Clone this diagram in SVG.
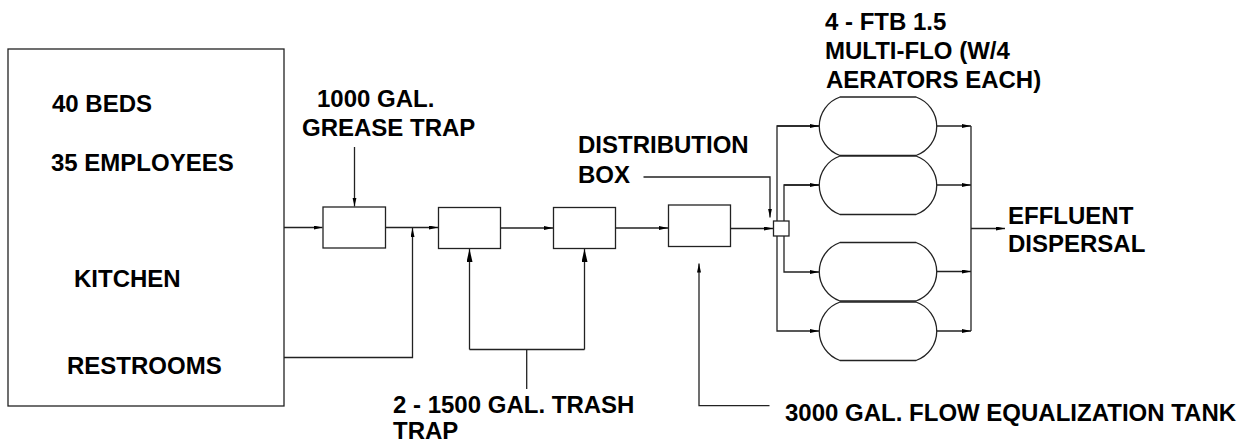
<svg xmlns="http://www.w3.org/2000/svg" width="1254" height="442" viewBox="0 0 1254 442">
<style>
text{font-family:"Liberation Sans",Arial,sans-serif;font-weight:bold;font-size:24px;fill:#000}
.b{fill:#fff;stroke:#222;stroke-width:1.3}
.c{fill:none;stroke:#222;stroke-width:1.3}
</style>
<defs>
<marker id="a" markerUnits="userSpaceOnUse" markerWidth="10" markerHeight="6" refX="9" refY="2" orient="auto"><path d="M0,0 L9,2 L0,4 z" fill="#000"/></marker>
<marker id="A" markerUnits="userSpaceOnUse" markerWidth="14" markerHeight="8" refX="13" refY="3" orient="auto"><path d="M0,0 L13,3 L0,6 z" fill="#000"/></marker>
</defs>
<rect width="1254" height="442" fill="#fff"/>
<g id="connectors">
<path class="c" d="M354.5,147 V206.5" marker-end="url(#a)"/>
<path class="c" d="M284,227.5 H322.5" marker-end="url(#a)"/>
<path class="c" d="M385.5,227.5 H438" marker-end="url(#a)"/>
<path class="c" d="M284,357.5 H412.5 V228" marker-end="url(#a)"/>
<path class="c" d="M500.5,228 H553" marker-end="url(#a)"/>
<path class="c" d="M615.5,228 H668" marker-end="url(#a)"/>
<path class="c" d="M730.5,228.5 H773" marker-end="url(#a)"/>
<path class="c" d="M526.7,389 V349.5"/>
<path class="c" d="M469.5,349.5 H584.5"/>
<path class="c" d="M469.5,349.5 V249" marker-end="url(#A)"/>
<path class="c" d="M584.5,349.5 V249" marker-end="url(#A)"/>
<path class="c" d="M769.5,405.7 H699 V263.5" marker-end="url(#a)"/>
<path class="c" d="M643.5,177 H770 V217.5" marker-end="url(#a)"/>
<path class="c" d="M819,126 H777 V331 H819" marker-end="url(#a)"/>
<path class="c" d="M777,126 H819" marker-end="url(#a)"/>
<path class="c" d="M819,185 H784 V272 H819" marker-end="url(#a)"/>
<path class="c" d="M784,185 H819" marker-end="url(#a)"/>
<path class="c" d="M937,126 H971" marker-end="url(#a)"/>
<path class="c" d="M937,185 H971" marker-end="url(#a)"/>
<path class="c" d="M937,271.5 H971" marker-end="url(#a)"/>
<path class="c" d="M937,331 H971" marker-end="url(#a)"/>
<path class="c" d="M971,126 V331"/>
<path class="c" d="M971,228.5 H1005" marker-end="url(#a)"/>
</g>
<g id="facility">
<rect class="b" x="8" y="49" width="276" height="357"/>
<text x="52" y="112">40 BEDS</text>
<text x="51" y="171">35 EMPLOYEES</text>
<text x="74" y="287">KITCHEN</text>
<text x="67" y="374">RESTROOMS</text>
</g>
<g id="grease-trap">
<rect class="b" x="323" y="207" width="62.5" height="41"/>
<text x="317" y="107">1000 GAL.</text>
<text x="302" y="136">GREASE TRAP</text>
</g>
<g id="trash-trap-1"><rect class="b" x="438.5" y="207.5" width="62" height="41"/></g>
<g id="trash-trap-2"><rect class="b" x="553.5" y="207.5" width="62" height="41"/></g>
<g id="trash-trap-label">
<text x="393" y="413">2 - 1500 GAL. TRASH</text>
<text x="393" y="439">TRAP</text>
</g>
<g id="flow-eq-tank">
<rect class="b" x="668.5" y="205" width="62" height="41.5"/>
<text x="785" y="421">3000 GAL. FLOW EQUALIZATION TANK</text>
</g>
<g id="distribution-box">
<rect class="b" x="773.5" y="221" width="15.5" height="15"/>
<text x="578" y="153">DISTRIBUTION</text>
<text x="578" y="183">BOX</text>
</g>
<g id="multiflo">
<path class="b" d="M840,97 L916,97 A31 31 0 0 1 916,155.5 L840,155.5 A31 31 0 0 1 840,97 Z"/>
<path class="b" d="M840,156 L916,156 A31 31 0 0 1 916,214.5 L840,214.5 A31 31 0 0 1 840,156 Z"/>
<path class="b" d="M840,242.5 L916,242.5 A31 31 0 0 1 916,301 L840,301 A31 31 0 0 1 840,242.5 Z"/>
<path class="b" d="M840,302 L916,302 A31 31 0 0 1 916,360.5 L840,360.5 A31 31 0 0 1 840,302 Z"/>
<text x="825" y="30">4 - FTB 1.5</text>
<text x="825" y="59">MULTI-FLO (W/4</text>
<text x="826" y="88">AERATORS EACH)</text>
</g>
<g id="effluent">
<text x="1008" y="224">EFFLUENT</text>
<text x="1008" y="252">DISPERSAL</text>
</g>
</svg>
